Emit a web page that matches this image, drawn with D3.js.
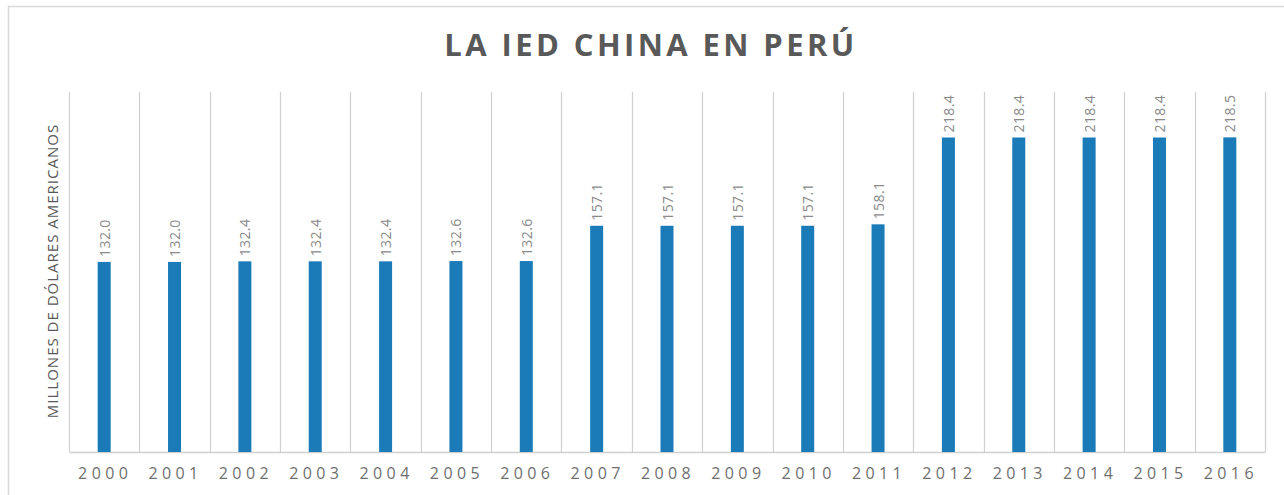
<!DOCTYPE html>
<html>
<head>
<meta charset="utf-8">
<script src="https://cdn.jsdelivr.net/npm/d3@7"></script>
<style>
  body { margin: 0; background: #fff; }
  svg { display: block; }
</style>
</head>
<body>
<svg id="chart" width="1284" height="495"></svg>
<script>
// data
const years = ["2000", "2001", "2002", "2003", "2004", "2005", "2006", "2007", "2008",
  "2009", "2010", "2011", "2012", "2013", "2014", "2015", "2016"];
const values = [132.0, 132.0, 132.4, 132.4, 132.4, 132.6, 132.6, 157.1, 157.1,
  157.1, 157.1, 158.1, 218.4, 218.4, 218.4, 218.4, 218.5];
const yDomain = [0, 250];

const width = 1284;
const height = 495;
const margin = { top: 92, right: 19, bottom: 43, left: 69 };
const font = "'Open Sans', 'DejaVu Sans', sans-serif";

const svg = d3.select("#chart");

// outer frame (left and top edges visible)
svg.append("path")
  .attr("d", `M8.5,${height} V6.5 H${width}`)
  .attr("fill", "none")
  .attr("stroke", "#d9d9d9")
  .attr("stroke-width", 1.5);

const x = d3.scaleBand()
  .domain(years)
  .range([margin.left, width - margin.right])
  .padding(0);

const y = d3.scaleLinear()
  .domain(yDomain)
  .range([height - margin.bottom, margin.top]);

// vertical gridlines at category boundaries
const bounds = years.map((d) => x(d)).concat([x(years[years.length - 1]) + x.bandwidth()]);
svg.append("g")
  .selectAll("line")
  .data(bounds)
  .join("line")
  .attr("x1", (d) => Math.round(d) + 0.5)
  .attr("x2", (d) => Math.round(d) + 0.5)
  .attr("y1", margin.top)
  .attr("y2", height - margin.bottom)
  .attr("stroke", "#d0d0d0")
  .attr("stroke-width", 1.2);

// x axis
const xAxis = svg.append("g")
  .attr("transform", `translate(0,${height - margin.bottom})`)
  .call(d3.axisBottom(x).tickSize(0).tickPadding(16));
xAxis.select(".domain").attr("stroke", "#d0d0d0").attr("stroke-width", 1.5);
xAxis.selectAll("text")
  .attr("fill", "#6f6f6f")
  .attr("dx", "1px")
  .style("font-family", font)
  .style("font-size", "16px")
  .style("letter-spacing", "4.4px");

const barWidth = 13;

svg.append("g")
  .selectAll("rect")
  .data(values)
  .join("rect")
  .attr("x", (d, i) => x(years[i]) + x.bandwidth() / 2 - barWidth / 2)
  .attr("y", (d) => y(d))
  .attr("width", barWidth)
  .attr("height", (d) => y(0) - y(d))
  .attr("fill", "#1a7bb8");

// value labels, rotated
svg.append("g")
  .selectAll("text")
  .data(values)
  .join("text")
  .attr("transform", (d, i) =>
    `translate(${x(years[i]) + x.bandwidth() / 2 + 5.5},${y(d) - 5}) rotate(-90)`)
  .attr("text-anchor", "start")
  .attr("fill", "#8a8a8a")
  .style("font-family", font)
  .style("font-size", "14px")
  .style("letter-spacing", "0.4px")
  .text((d) => d.toFixed(1));

// title
svg.append("text")
  .attr("x", 651)
  .attr("y", 56)
  .attr("text-anchor", "middle")
  .attr("fill", "#595959")
  .style("font-family", font)
  .style("font-weight", "bold")
  .style("font-size", "31px")
  .style("letter-spacing", "3.4px")
  .text("LA IED CHINA EN PERÚ");

// y axis title
svg.append("text")
  .attr("transform", `translate(58,271) rotate(-90)`)
  .attr("text-anchor", "middle")
  .attr("fill", "#595959")
  .style("font-family", font)
  .style("font-size", "15px")
  .style("letter-spacing", "1px")
  .text("MILLONES DE DÓLARES AMERICANOS");
</script>
</body>
</html>
